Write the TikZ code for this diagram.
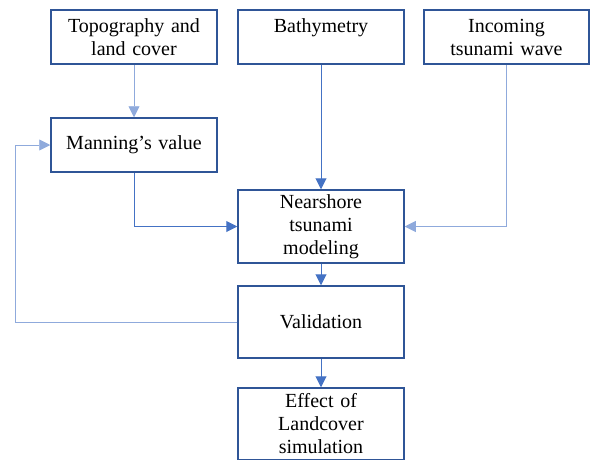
\documentclass[tikz,border=0pt]{standalone}
\usepackage{fontspec}
\setmainfont{Liberation Serif}
\usetikzlibrary{arrows.meta}
\definecolor{boxblue}{HTML}{2F5597}
\definecolor{linkblue}{HTML}{4472C4}
\definecolor{paleblue}{HTML}{8FAADC}
\begin{document}
\begin{tikzpicture}[x=1pt, y=-1pt,
    every node/.style={draw=boxblue, line width=1.5pt, fill=white, inner sep=2pt, align=center, font=\fontsize{20}{23}\selectfont, minimum width=166pt, text width=160pt},
    link/.style={draw=linkblue, line width=1pt, -{Triangle[length=11pt,width=11pt]}},
    thinlink/.style={link, draw=paleblue, line width=0.9pt}]
        \useasboundingbox (0,0) rectangle (592,459);
        % inputs
        \node[minimum height=54pt] (topo) at (134,37) {Topography and\\land cover};
        \node[minimum height=54pt] (bathy) at (321,37) {Bathymetry\\\phantom{x}};
        \node[minimum height=54pt, minimum width=165pt] (wave) at (506.5,37) {Incoming\\tsunami wave};
        \node[minimum height=54pt] (manning) at (134,145) {Manning’s value};
        % main chain
        \node[minimum height=73pt] (model) at (321,226.5) {Nearshore\\tsunami\\modeling};
        \node[minimum height=72pt] (valid) at (321,322) {Validation};
        \node[minimum height=72pt] (effect) at (321,424) {Effect of\\Landcover\\simulation};
        \draw[thinlink] (topo) -- (manning);
        \draw[link] (bathy) -- (model);
        \draw[thinlink] (wave.south) |- (model.east);
        \draw[link] (manning.south) |- (model.west);
        \draw[link] (model) -- (valid);
        \draw[link] (valid) -- (effect);
        \draw[thinlink] (valid.west) -- ++(-222,0) |- (manning.west);
\end{tikzpicture}
\end{document}
